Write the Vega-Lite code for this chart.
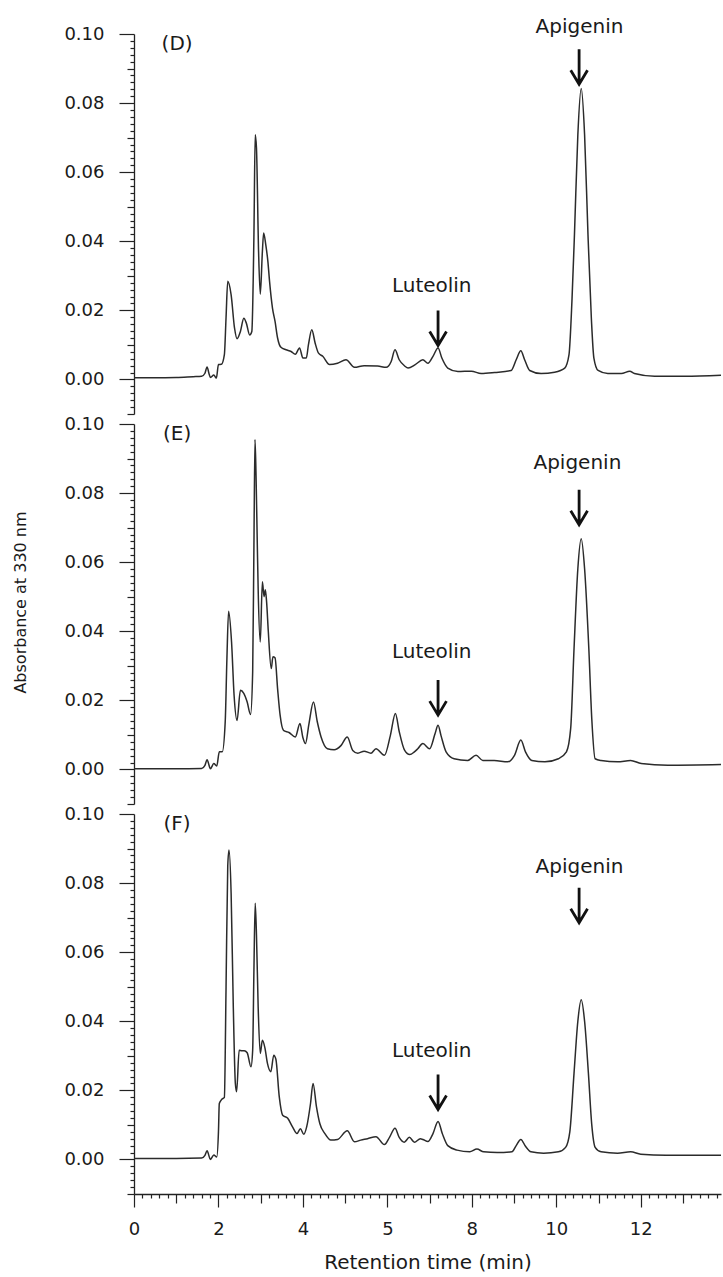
{
"$schema": "https://vega.github.io/schema/vega-lite/v6.json",
"background": "white",
"padding": {"left": 12, "top": 17, "right": 0, "bottom": 0},
"spacing": 10,
"bounds": "flush",
"config": {
  "font": "DejaVu Sans",
  "view": {"stroke": null},
  "axis": {"grid": false, "domainColor": "#222", "domainWidth": 1.3, "tickColor": "#222", "tickWidth": 1.2, "labelColor": "#1a1a1a", "labelFont": "DejaVu Sans", "labelFontSize": 18, "labelOverlap": false, "labelFlush": false, "titleFont": "DejaVu Sans", "titleFontWeight": "normal", "titleColor": "#1a1a1a"}
},
"datasets": {
  "trace": [
    {"p":"D","t":0,"a":0.0005},{"p":"D","t":0.5,"a":0.0005},{"p":"D","t":1.0,"a":0.0006},{"p":"D","t":1.4,"a":0.0008},{"p":"D","t":1.6,"a":0.0009},{"p":"D","t":1.68,"a":0.0018},{"p":"D","t":1.73,"a":0.0036},{"p":"D","t":1.78,"a":0.0015},{"p":"D","t":1.81,"a":0.0006},{"p":"D","t":1.89,"a":0.0013},{"p":"D","t":1.95,"a":0.0004},{"p":"D","t":2.0,"a":0.0043},{"p":"D","t":2.07,"a":0.0044},{"p":"D","t":2.14,"a":0.0072},{"p":"D","t":2.18,"a":0.018},{"p":"D","t":2.22,"a":0.0284},{"p":"D","t":2.3,"a":0.0245},{"p":"D","t":2.38,"a":0.0149},{"p":"D","t":2.44,"a":0.0118},{"p":"D","t":2.52,"a":0.0139},{"p":"D","t":2.6,"a":0.0177},{"p":"D","t":2.66,"a":0.0163},{"p":"D","t":2.74,"a":0.0129},{"p":"D","t":2.79,"a":0.0139},{"p":"D","t":2.84,"a":0.0419},{"p":"D","t":2.87,"a":0.0708},{"p":"D","t":2.9,"a":0.067},{"p":"D","t":2.95,"a":0.037},{"p":"D","t":2.99,"a":0.0247},{"p":"D","t":3.04,"a":0.037},{"p":"D","t":3.07,"a":0.0424},{"p":"D","t":3.12,"a":0.039},{"p":"D","t":3.17,"a":0.0342},{"p":"D","t":3.21,"a":0.0284},{"p":"D","t":3.28,"a":0.0206},{"p":"D","t":3.34,"a":0.0168},{"p":"D","t":3.4,"a":0.012},{"p":"D","t":3.48,"a":0.0093},{"p":"D","t":3.6,"a":0.0086},{"p":"D","t":3.72,"a":0.0081},{"p":"D","t":3.82,"a":0.0073},{"p":"D","t":3.92,"a":0.0091},{"p":"D","t":4.0,"a":0.0062},{"p":"D","t":4.08,"a":0.0062},{"p":"D","t":4.13,"a":0.01},{"p":"D","t":4.21,"a":0.0144},{"p":"D","t":4.29,"a":0.0105},{"p":"D","t":4.37,"a":0.0076},{"p":"D","t":4.47,"a":0.0067},{"p":"D","t":4.63,"a":0.0043},{"p":"D","t":4.82,"a":0.0047},{"p":"D","t":5.02,"a":0.0057},{"p":"D","t":5.22,"a":0.0035},{"p":"D","t":5.45,"a":0.004},{"p":"D","t":5.77,"a":0.0039},{"p":"D","t":5.97,"a":0.0035},{"p":"D","t":6.09,"a":0.0052},{"p":"D","t":6.18,"a":0.0086},{"p":"D","t":6.28,"a":0.0057},{"p":"D","t":6.41,"a":0.0039},{"p":"D","t":6.49,"a":0.0033},{"p":"D","t":6.66,"a":0.0043},{"p":"D","t":6.84,"a":0.0057},{"p":"D","t":6.96,"a":0.0047},{"p":"D","t":7.08,"a":0.0067},{"p":"D","t":7.2,"a":0.0091},{"p":"D","t":7.29,"a":0.0062},{"p":"D","t":7.43,"a":0.0033},{"p":"D","t":7.67,"a":0.0023},{"p":"D","t":7.99,"a":0.0024},{"p":"D","t":8.22,"a":0.0017},{"p":"D","t":8.54,"a":0.002},{"p":"D","t":8.93,"a":0.0026},{"p":"D","t":9.05,"a":0.0057},{"p":"D","t":9.16,"a":0.0083},{"p":"D","t":9.25,"a":0.0057},{"p":"D","t":9.37,"a":0.0026},{"p":"D","t":9.64,"a":0.0017},{"p":"D","t":9.96,"a":0.0021},{"p":"D","t":10.2,"a":0.0033},{"p":"D","t":10.3,"a":0.0071},{"p":"D","t":10.37,"a":0.0226},{"p":"D","t":10.43,"a":0.042},{"p":"D","t":10.51,"a":0.0708},{"p":"D","t":10.59,"a":0.0842},{"p":"D","t":10.67,"a":0.0708},{"p":"D","t":10.75,"a":0.042},{"p":"D","t":10.83,"a":0.0177},{"p":"D","t":10.89,"a":0.0062},{"p":"D","t":10.99,"a":0.0026},{"p":"D","t":11.22,"a":0.0017},{"p":"D","t":11.54,"a":0.0017},{"p":"D","t":11.74,"a":0.0024},{"p":"D","t":11.85,"a":0.0017},{"p":"D","t":12.33,"a":0.0009},{"p":"D","t":13.04,"a":0.0009},{"p":"D","t":13.9,"a":0.0012},
    {"p":"E","t":0,"a":0.0002},{"p":"E","t":1.0,"a":0.0002},{"p":"E","t":1.6,"a":0.0003},{"p":"E","t":1.68,"a":0.0012},{"p":"E","t":1.73,"a":0.0028},{"p":"E","t":1.81,"a":0.0002},{"p":"E","t":1.89,"a":0.0017},{"p":"E","t":1.96,"a":0.001},{"p":"E","t":2.02,"a":0.0051},{"p":"E","t":2.09,"a":0.0051},{"p":"E","t":2.16,"a":0.0138},{"p":"E","t":2.2,"a":0.032},{"p":"E","t":2.24,"a":0.0458},{"p":"E","t":2.31,"a":0.0369},{"p":"E","t":2.37,"a":0.0215},{"p":"E","t":2.44,"a":0.0142},{"p":"E","t":2.52,"a":0.0229},{"p":"E","t":2.6,"a":0.022},{"p":"E","t":2.68,"a":0.0195},{"p":"E","t":2.76,"a":0.0159},{"p":"E","t":2.81,"a":0.0282},{"p":"E","t":2.84,"a":0.065},{"p":"E","t":2.865,"a":0.0955},{"p":"E","t":2.89,"a":0.085},{"p":"E","t":2.92,"a":0.065},{"p":"E","t":2.94,"a":0.0523},{"p":"E","t":2.99,"a":0.0369},{"p":"E","t":3.04,"a":0.0543},{"p":"E","t":3.08,"a":0.05},{"p":"E","t":3.11,"a":0.052},{"p":"E","t":3.14,"a":0.0485},{"p":"E","t":3.18,"a":0.04},{"p":"E","t":3.25,"a":0.0292},{"p":"E","t":3.29,"a":0.0326},{"p":"E","t":3.34,"a":0.0323},{"p":"E","t":3.4,"a":0.0234},{"p":"E","t":3.46,"a":0.0157},{"p":"E","t":3.54,"a":0.0113},{"p":"E","t":3.67,"a":0.0107},{"p":"E","t":3.82,"a":0.0094},{"p":"E","t":3.93,"a":0.0133},{"p":"E","t":4.0,"a":0.0092},{"p":"E","t":4.06,"a":0.0075},{"p":"E","t":4.14,"a":0.013},{"p":"E","t":4.25,"a":0.0195},{"p":"E","t":4.34,"a":0.0138},{"p":"E","t":4.43,"a":0.0094},{"p":"E","t":4.58,"a":0.006},{"p":"E","t":4.74,"a":0.0057},{"p":"E","t":4.9,"a":0.0069},{"p":"E","t":5.05,"a":0.0094},{"p":"E","t":5.18,"a":0.0055},{"p":"E","t":5.3,"a":0.0047},{"p":"E","t":5.45,"a":0.0053},{"p":"E","t":5.61,"a":0.0047},{"p":"E","t":5.73,"a":0.006},{"p":"E","t":5.93,"a":0.0041},{"p":"E","t":6.07,"a":0.0098},{"p":"E","t":6.19,"a":0.0162},{"p":"E","t":6.28,"a":0.011},{"p":"E","t":6.41,"a":0.0055},{"p":"E","t":6.53,"a":0.0043},{"p":"E","t":6.64,"a":0.0051},{"p":"E","t":6.72,"a":0.006},{"p":"E","t":6.84,"a":0.0075},{"p":"E","t":7.0,"a":0.006},{"p":"E","t":7.13,"a":0.0104},{"p":"E","t":7.2,"a":0.0128},{"p":"E","t":7.27,"a":0.0098},{"p":"E","t":7.39,"a":0.0051},{"p":"E","t":7.58,"a":0.0031},{"p":"E","t":7.9,"a":0.0026},{"p":"E","t":8.1,"a":0.0041},{"p":"E","t":8.26,"a":0.0026},{"p":"E","t":8.53,"a":0.0026},{"p":"E","t":8.85,"a":0.0022},{"p":"E","t":9.01,"a":0.0041},{"p":"E","t":9.16,"a":0.0085},{"p":"E","t":9.27,"a":0.0051},{"p":"E","t":9.42,"a":0.0026},{"p":"E","t":9.73,"a":0.0022},{"p":"E","t":10.05,"a":0.0031},{"p":"E","t":10.24,"a":0.0051},{"p":"E","t":10.34,"a":0.0118},{"p":"E","t":10.42,"a":0.035},{"p":"E","t":10.51,"a":0.0581},{"p":"E","t":10.59,"a":0.0668},{"p":"E","t":10.67,"a":0.0581},{"p":"E","t":10.77,"a":0.035},{"p":"E","t":10.84,"a":0.0147},{"p":"E","t":10.92,"a":0.0031},{"p":"E","t":11.06,"a":0.0026},{"p":"E","t":11.45,"a":0.0022},{"p":"E","t":11.76,"a":0.0026},{"p":"E","t":12.01,"a":0.0017},{"p":"E","t":12.64,"a":0.0012},{"p":"E","t":13.9,"a":0.0014},
    {"p":"F","t":0,"a":0.0003},{"p":"F","t":1.0,"a":0.0003},{"p":"F","t":1.6,"a":0.0004},{"p":"F","t":1.68,"a":0.0012},{"p":"F","t":1.73,"a":0.0025},{"p":"F","t":1.81,"a":0.0},{"p":"F","t":1.89,"a":0.0013},{"p":"F","t":1.96,"a":0.0007},{"p":"F","t":2.0,"a":0.008},{"p":"F","t":2.02,"a":0.0162},{"p":"F","t":2.08,"a":0.0174},{"p":"F","t":2.14,"a":0.018},{"p":"F","t":2.18,"a":0.05},{"p":"F","t":2.22,"a":0.085},{"p":"F","t":2.25,"a":0.0896},{"p":"F","t":2.3,"a":0.077},{"p":"F","t":2.35,"a":0.045},{"p":"F","t":2.4,"a":0.022},{"p":"F","t":2.43,"a":0.0196},{"p":"F","t":2.49,"a":0.0316},{"p":"F","t":2.55,"a":0.0315},{"p":"F","t":2.61,"a":0.0315},{"p":"F","t":2.68,"a":0.0309},{"p":"F","t":2.77,"a":0.0268},{"p":"F","t":2.81,"a":0.0316},{"p":"F","t":2.84,"a":0.055},{"p":"F","t":2.87,"a":0.0742},{"p":"F","t":2.9,"a":0.065},{"p":"F","t":2.94,"a":0.0442},{"p":"F","t":2.99,"a":0.0307},{"p":"F","t":3.04,"a":0.0345},{"p":"F","t":3.1,"a":0.0323},{"p":"F","t":3.16,"a":0.0278},{"p":"F","t":3.24,"a":0.0254},{"p":"F","t":3.31,"a":0.0302},{"p":"F","t":3.36,"a":0.029},{"p":"F","t":3.44,"a":0.0181},{"p":"F","t":3.52,"a":0.0128},{"p":"F","t":3.64,"a":0.0119},{"p":"F","t":3.75,"a":0.0095},{"p":"F","t":3.86,"a":0.0075},{"p":"F","t":3.94,"a":0.0089},{"p":"F","t":4.02,"a":0.0073},{"p":"F","t":4.09,"a":0.0095},{"p":"F","t":4.18,"a":0.0162},{"p":"F","t":4.24,"a":0.022},{"p":"F","t":4.32,"a":0.0153},{"p":"F","t":4.4,"a":0.0104},{"p":"F","t":4.52,"a":0.0075},{"p":"F","t":4.66,"a":0.0056},{"p":"F","t":4.82,"a":0.0058},{"p":"F","t":5.05,"a":0.0083},{"p":"F","t":5.22,"a":0.0051},{"p":"F","t":5.37,"a":0.0056},{"p":"F","t":5.53,"a":0.006},{"p":"F","t":5.73,"a":0.0066},{"p":"F","t":5.93,"a":0.0043},{"p":"F","t":6.05,"a":0.0064},{"p":"F","t":6.18,"a":0.009},{"p":"F","t":6.28,"a":0.0064},{"p":"F","t":6.4,"a":0.005},{"p":"F","t":6.52,"a":0.0064},{"p":"F","t":6.64,"a":0.005},{"p":"F","t":6.78,"a":0.006},{"p":"F","t":6.84,"a":0.0058},{"p":"F","t":6.96,"a":0.0052},{"p":"F","t":7.08,"a":0.0075},{"p":"F","t":7.2,"a":0.011},{"p":"F","t":7.3,"a":0.0075},{"p":"F","t":7.43,"a":0.004},{"p":"F","t":7.65,"a":0.0027},{"p":"F","t":7.95,"a":0.0022},{"p":"F","t":8.12,"a":0.003},{"p":"F","t":8.28,"a":0.0022},{"p":"F","t":8.6,"a":0.002},{"p":"F","t":8.95,"a":0.0022},{"p":"F","t":9.05,"a":0.004},{"p":"F","t":9.16,"a":0.0058},{"p":"F","t":9.27,"a":0.0038},{"p":"F","t":9.4,"a":0.0022},{"p":"F","t":9.7,"a":0.0018},{"p":"F","t":10.05,"a":0.0022},{"p":"F","t":10.22,"a":0.0035},{"p":"F","t":10.32,"a":0.008},{"p":"F","t":10.42,"a":0.025},{"p":"F","t":10.51,"a":0.04},{"p":"F","t":10.59,"a":0.0462},{"p":"F","t":10.67,"a":0.04},{"p":"F","t":10.76,"a":0.025},{"p":"F","t":10.84,"a":0.01},{"p":"F","t":10.92,"a":0.0035},{"p":"F","t":11.06,"a":0.0022},{"p":"F","t":11.45,"a":0.0018},{"p":"F","t":11.76,"a":0.0022},{"p":"F","t":12.0,"a":0.0015},{"p":"F","t":12.6,"a":0.0012},{"p":"F","t":13.9,"a":0.0012}
  ],
  "notes": [
    {"p":"D","t":10.55,"a":0.1002,"label":"Apigenin"},{"p":"D","t":7.05,"a":0.0252,"label":"Luteolin"},
    {"p":"E","t":10.5,"a":0.087,"label":"Apigenin"},{"p":"E","t":7.05,"a":0.0323,"label":"Luteolin"},
    {"p":"F","t":10.55,"a":0.0829,"label":"Apigenin"},{"p":"F","t":7.05,"a":0.0298,"label":"Luteolin"}
  ],
  "arrows": [
    {"p":"D","t":10.54,"a":0.0905},{"p":"D","t":7.2,"a":0.0149},
    {"p":"E","t":10.54,"a":0.0759},{"p":"E","t":7.2,"a":0.0208},
    {"p":"F","t":10.54,"a":0.0736},{"p":"F","t":7.2,"a":0.0195}
  ],
  "tags": [
    {"p":"D","t":1.02,"a":0.097,"label":"(D)"},{"p":"E","t":1.02,"a":0.097,"label":"(E)"},{"p":"F","t":1.02,"a":0.097,"label":"(F)"}
  ]
},
"vconcat": [
  {
    "width": 587, "height": 380,
    "encoding": {
      "x": {"field": "t", "type": "quantitative", "scale": {"domain": [0, 13.9], "nice": false, "zero": false}, "axis": null},
      "y": {"field": "a", "type": "quantitative", "scale": {"domain": [-0.01, 0.1], "nice": false, "zero": false},
        "axis": {"title": null, "values": [-0.01,-0.008,-0.006,-0.004,-0.002,0,0.002,0.004,0.006,0.008,0.01,0.012,0.014,0.016,0.018,0.02,0.022,0.024,0.026,0.028,0.03,0.032,0.034,0.036,0.038,0.04,0.042,0.044,0.046,0.048,0.05,0.052,0.054,0.056,0.058,0.06,0.062,0.064,0.066,0.068,0.07,0.072,0.074,0.076,0.078,0.08,0.082,0.084,0.086,0.088,0.09,0.092,0.094,0.096,0.098,0.1],
          "labelExpr": "abs(datum.value*50-round(datum.value*50))<0.001 ? format(datum.value,'.2f') : ''",
          "tickSize": {"condition": [{"test": "abs(datum.value*50-round(datum.value*50))<0.001", "value": 15}, {"test": "abs(datum.value*100-round(datum.value*100))<0.001", "value": 7}], "value": 4},
          "labelPadding": 15}}
    },
    "layer": [
      {"data": {"name": "trace"}, "transform": [{"filter": "datum.p=='D'"}], "mark": {"type": "line", "color": "#2b2b2b", "strokeWidth": 1.5, "interpolate": "monotone"}},
      {"data": {"name": "notes"}, "transform": [{"filter": "datum.p=='D'"}], "mark": {"type": "text", "fontSize": 20, "align": "center", "baseline": "alphabetic", "color": "#1a1a1a"}, "encoding": {"text": {"field": "label"}}},
      {"data": {"name": "arrows"}, "transform": [{"filter": "datum.p=='D'"}], "mark": {"type": "point", "shape": "M0,-1L0,1M-0.48,0.2L0,1L0.48,0.2", "size": 1225, "filled": false, "color": "#111", "strokeWidth": 2.8, "opacity": 1}},
      {"data": {"name": "tags"}, "transform": [{"filter": "datum.p=='D'"}], "mark": {"type": "text", "fontSize": 20, "align": "center", "baseline": "middle", "color": "#1a1a1a"}, "encoding": {"text": {"field": "label"}}}
    ]
  },
  {
    "width": 587, "height": 380,
    "encoding": {
      "x": {"field": "t", "type": "quantitative", "scale": {"domain": [0, 13.9], "nice": false, "zero": false}, "axis": null},
      "y": {"field": "a", "type": "quantitative", "scale": {"domain": [-0.01, 0.1], "nice": false, "zero": false},
        "axis": {"title": "Absorbance at 330 nm", "titleFontSize": 16, "titlePadding": 35, "titleY": 178, "values": [-0.01,-0.008,-0.006,-0.004,-0.002,0,0.002,0.004,0.006,0.008,0.01,0.012,0.014,0.016,0.018,0.02,0.022,0.024,0.026,0.028,0.03,0.032,0.034,0.036,0.038,0.04,0.042,0.044,0.046,0.048,0.05,0.052,0.054,0.056,0.058,0.06,0.062,0.064,0.066,0.068,0.07,0.072,0.074,0.076,0.078,0.08,0.082,0.084,0.086,0.088,0.09,0.092,0.094,0.096,0.098,0.1],
          "labelExpr": "abs(datum.value*50-round(datum.value*50))<0.001 ? format(datum.value,'.2f') : ''",
          "tickSize": {"condition": [{"test": "abs(datum.value*50-round(datum.value*50))<0.001", "value": 15}, {"test": "abs(datum.value*100-round(datum.value*100))<0.001", "value": 7}], "value": 4},
          "labelPadding": 15}}
    },
    "layer": [
      {"data": {"name": "trace"}, "transform": [{"filter": "datum.p=='E'"}], "mark": {"type": "line", "color": "#2b2b2b", "strokeWidth": 1.5, "interpolate": "monotone"}},
      {"data": {"name": "notes"}, "transform": [{"filter": "datum.p=='E'"}], "mark": {"type": "text", "fontSize": 20, "align": "center", "baseline": "alphabetic", "color": "#1a1a1a"}, "encoding": {"text": {"field": "label"}}},
      {"data": {"name": "arrows"}, "transform": [{"filter": "datum.p=='E'"}], "mark": {"type": "point", "shape": "M0,-1L0,1M-0.48,0.2L0,1L0.48,0.2", "size": 1225, "filled": false, "color": "#111", "strokeWidth": 2.8, "opacity": 1}},
      {"data": {"name": "tags"}, "transform": [{"filter": "datum.p=='E'"}], "mark": {"type": "text", "fontSize": 20, "align": "center", "baseline": "middle", "color": "#1a1a1a"}, "encoding": {"text": {"field": "label"}}}
    ]
  },
  {
    "width": 587, "height": 380,
    "encoding": {
      "x": {"field": "t", "type": "quantitative", "scale": {"domain": [0, 13.9], "nice": false, "zero": false},
        "axis": {"title": "Retention time (min)", "titleFontSize": 20, "titlePadding": 14, "values": [0,0.2,0.4,0.6,0.8,1,1.2,1.4,1.6,1.8,2,2.2,2.4,2.6,2.8,3,3.2,3.4,3.6,3.8,4,4.2,4.4,4.6,4.8,5,5.2,5.4,5.6,5.8,6,6.2,6.4,6.6,6.8,7,7.2,7.4,7.6,7.8,8,8.2,8.4,8.6,8.8,9,9.2,9.4,9.6,9.8,10,10.2,10.4,10.6,10.8,11,11.2,11.4,11.6,11.8,12,12.2,12.4,12.6,12.8,13,13.2,13.4,13.6,13.8],
          "labelExpr": "abs(datum.value/2-round(datum.value/2))<0.001 ? (datum.value==6 ? '5' : format(datum.value,'d')) : ''",
          "tickSize": {"condition": [{"test": "abs(datum.value/2-round(datum.value/2))<0.001", "value": 13}, {"test": "abs(datum.value-round(datum.value))<0.001", "value": 9}], "value": 4},
          "labelPadding": 13}},
      "y": {"field": "a", "type": "quantitative", "scale": {"domain": [-0.01, 0.1], "nice": false, "zero": false},
        "axis": {"title": null, "values": [-0.01,-0.008,-0.006,-0.004,-0.002,0,0.002,0.004,0.006,0.008,0.01,0.012,0.014,0.016,0.018,0.02,0.022,0.024,0.026,0.028,0.03,0.032,0.034,0.036,0.038,0.04,0.042,0.044,0.046,0.048,0.05,0.052,0.054,0.056,0.058,0.06,0.062,0.064,0.066,0.068,0.07,0.072,0.074,0.076,0.078,0.08,0.082,0.084,0.086,0.088,0.09,0.092,0.094,0.096,0.098,0.1],
          "labelExpr": "abs(datum.value*50-round(datum.value*50))<0.001 ? format(datum.value,'.2f') : ''",
          "tickSize": {"condition": [{"test": "abs(datum.value*50-round(datum.value*50))<0.001", "value": 15}, {"test": "abs(datum.value*100-round(datum.value*100))<0.001", "value": 7}], "value": 4},
          "labelPadding": 15}}
    },
    "layer": [
      {"data": {"name": "trace"}, "transform": [{"filter": "datum.p=='F'"}], "mark": {"type": "line", "color": "#2b2b2b", "strokeWidth": 1.5, "interpolate": "monotone"}},
      {"data": {"name": "notes"}, "transform": [{"filter": "datum.p=='F'"}], "mark": {"type": "text", "fontSize": 20, "align": "center", "baseline": "alphabetic", "color": "#1a1a1a"}, "encoding": {"text": {"field": "label"}}},
      {"data": {"name": "arrows"}, "transform": [{"filter": "datum.p=='F'"}], "mark": {"type": "point", "shape": "M0,-1L0,1M-0.48,0.2L0,1L0.48,0.2", "size": 1225, "filled": false, "color": "#111", "strokeWidth": 2.8, "opacity": 1}},
      {"data": {"name": "tags"}, "transform": [{"filter": "datum.p=='F'"}], "mark": {"type": "text", "fontSize": 20, "align": "center", "baseline": "middle", "color": "#1a1a1a"}, "encoding": {"text": {"field": "label"}}}
    ]
  }
]
}
